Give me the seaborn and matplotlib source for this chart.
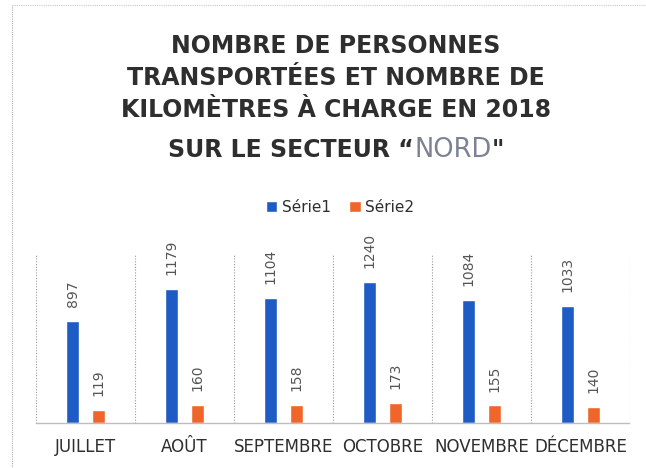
import matplotlib
matplotlib.use("Agg")
import matplotlib.pyplot as plt
from matplotlib.lines import Line2D
import seaborn as sns
import pandas as pd
import numpy as np

# ---- data ----
mois = ["JUILLET", "AOÛT", "SEPTEMBRE", "OCTOBRE", "NOVEMBRE", "DÉCEMBRE"]
serie1 = [897, 1179, 1104, 1240, 1084, 1033]
serie2 = [119, 160, 158, 173, 155, 140]
series_names = ["Série1", "Série2"]

title_lines = ["NOMBRE DE PERSONNES",
               "TRANSPORTÉES ET NOMBRE DE",
               "KILOMÈTRES À CHARGE EN 2018"]
title_last = ["SUR LE SECTEUR “", "NORD", "\""]

df = pd.DataFrame({
    "mois": mois * 2,
    "serie": [series_names[0]] * len(mois) + [series_names[1]] * len(mois),
    "valeur": serie1 + serie2,
})

BLUE = "#1f5bc4"
ORANGE = "#f0652a"
DARK = "#2e2e2e"
GRAY = "#555555"

sns.set_theme(style="white")
plt.rcParams["font.family"] = ["DejaVu Sans"]

W, H = 646, 468
fig = plt.figure(figsize=(W / 100, H / 100), dpi=100)
fig.patch.set_facecolor("white")

ax = fig.add_axes([36 / W, 1 - 423 / H, (630 - 36) / W, (423 - 254) / H])
sns.barplot(data=df, x="mois", y="valeur", hue="serie", order=mois,
            hue_order=series_names, palette=[BLUE, ORANGE],
            width=0.515, gap=0.5, errorbar=None, ax=ax, legend=True,
            saturation=1)

ax.set_xlim(-0.5, len(mois) - 0.5)
ax.set_ylim(0, 1490)
ax.set_xlabel("")
ax.set_ylabel("")
ax.set_yticks([])
for s in ["top", "left", "right"]:
    ax.spines[s].set_visible(False)
ax.spines["bottom"].set_color("#bdbdbd")
ax.spines["bottom"].set_linewidth(1.0)
ax.spines["bottom"].set_linestyle((0, (1, 1)))

ax.set_xticks(np.arange(-0.5, len(mois), 1.0), minor=True)
ax.grid(which="minor", axis="x", color="#9a9a9a", linestyle=(0, (1, 1.5)), linewidth=0.8)
ax.grid(which="major", visible=False)
ax.tick_params(axis="x", which="both", length=0, pad=11, labelsize=12, labelcolor=DARK)

for cont in ax.containers:
    ax.bar_label(cont, rotation=90, padding=10, fontsize=10, color=GRAY)

# legend
handles, labels = ax.get_legend_handles_labels()
ax.get_legend().remove()
fig.legend(handles, labels, loc="center", bbox_to_anchor=(340 / W, 1 - 207 / H),
           ncol=2, frameon=False, handlelength=0.75, handleheight=0.75,
           columnspacing=1.2, handletextpad=0.3, fontsize=11,
           labelcolor=DARK)

# title
xc = 336 / W
ys = [46, 78, 110]
TS = 17
for line, y in zip(title_lines, ys):
    fig.text(xc, 1 - y / H, line, ha="center", va="center", fontsize=TS,
             fontweight="bold", color=DARK)

# last title line composed of pieces
renderer = fig.canvas.get_renderer()
y4 = 1 - 150 / H
pieces = []
styles = [dict(fontweight="bold", color=DARK, fontsize=TS),
          dict(fontweight="normal", color="#7a8294", fontsize=18.5),
          dict(fontweight="bold", color=DARK, fontsize=TS)]
widths = []
for txt, st in zip(title_last, styles):
    t = fig.text(0, y4, txt, ha="left", va="center", **st)
    bb = t.get_window_extent(renderer=renderer)
    widths.append(bb.width / W)
    pieces.append(t)
total = sum(widths)
x = xc - total / 2
for t, w in zip(pieces, widths):
    t.set_x(x)
    x += w

# border lines of chart frame
fig.add_artist(Line2D([12 / W, 12 / W], [0, 1 - 5 / H], color="#b0b0b0",
                      linewidth=0.8, linestyle=(0, (1, 1)), transform=fig.transFigure))
fig.add_artist(Line2D([12 / W, 1], [1 - 5 / H, 1 - 5 / H], color="#c8c8c8",
                      linewidth=0.8, linestyle=(0, (1, 1)), transform=fig.transFigure))

fig.savefig("out.png", dpi=100)
